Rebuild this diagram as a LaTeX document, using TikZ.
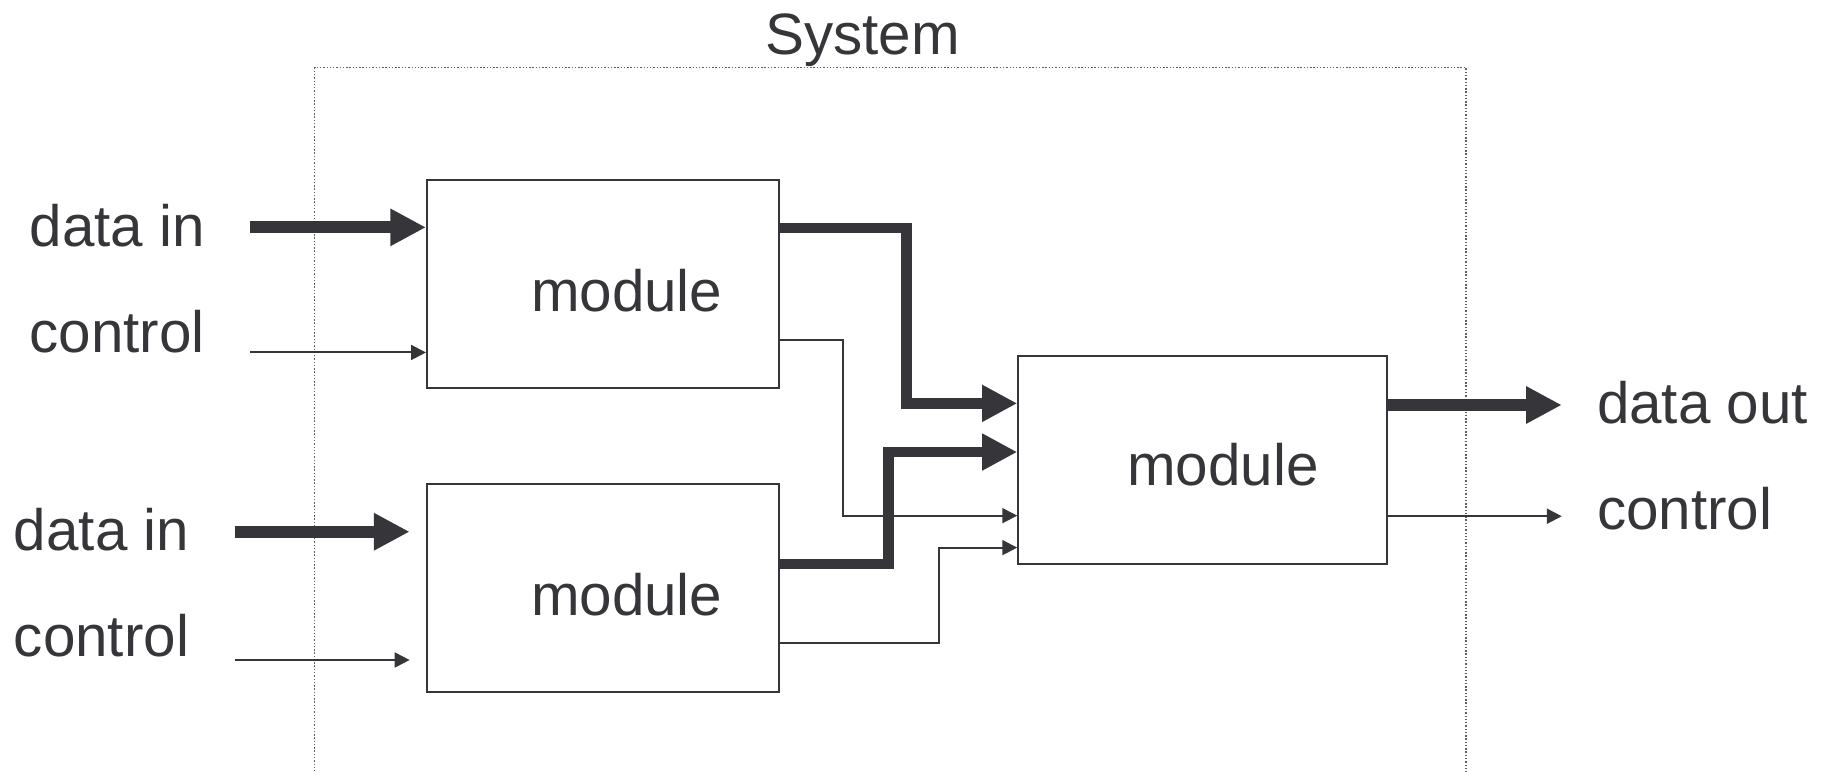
\documentclass[tikz,border=0pt]{standalone}
\usepackage{fontspec}
\setmainfont{Liberation Sans}
\usetikzlibrary{arrows.meta}
\definecolor{ink}{RGB}{54,54,58}
\definecolor{framegray}{RGB}{95,95,95}
\begin{document}
\begin{tikzpicture}[x=0.5pt,y=-0.5pt,
  lbl/.style={font=\fontsize{25}{30}\selectfont, text=ink, inner sep=0pt, anchor=base west},
  modtext/.style={lbl, anchor=base},
  modbox/.style={draw=ink, line width=0.9pt, rectangle, inner sep=0pt,
                 minimum width=150.8pt, minimum height=89pt},
  bigdata/.style={color=ink, line width=5.1pt, -{Triangle[length=15.3pt,width=15pt]}},
  datalink/.style={color=ink, line width=4.5pt, -{Triangle[length=15pt,width=14.8pt]}},
  ctllink/.style={color=ink, line width=0.85pt, -{Triangle[length=6.4pt,width=6.4pt]}},
  sysframe/.style={draw=framegray, line width=0.65pt, dash pattern=on 0.6pt off 0.8pt}]
\useasboundingbox (0,0) rectangle (1568,661);

% system boundary, open at the bottom
\draw[sysframe] (269.6,661) -- (269.6,58) -- (1256.3,58) -- (1256.3,661);
\node[modtext] (sys) at (739,47) {System};

% modules
\node[modbox] (m1) at (516.7,243.1) {};
\node[modbox] (m2) at (516.7,503.6) {};
\node[modbox, minimum width=158pt] (m3) at (1030.5,393.9) {};
\node[modtext] (m1t) at (537,266.5) {module};
\node[modtext] (m2t) at (537,527) {module};
\node[modtext] (m3t) at (1047.8,416) {module};

% external inputs
\node[lbl] (din1) at (25,211) {data in};
\node[lbl] (ctl1) at (25,302) {control};
\node[lbl] (din2) at (11.5,471.8) {data in};
\node[lbl] (ctl2) at (11.5,562.7) {control};
\coordinate (in1) at (214.6,194.8);
\coordinate (c1) at (214.6,302);
\coordinate (in2) at (201,455.6);
\coordinate (c2) at (201,565.5);
\draw[bigdata] (in1) -- (m1.west |- in1);
\draw[ctllink] (c1) -- (m1.west |- c1);
\draw[bigdata] (in2) -- ([xshift=-7pt]m2.west |- in2);
\draw[ctllink] (c2) -- ([xshift=-7pt]m2.west |- c2);

% links between modules
\draw[datalink] (m1.east |- 0,195.2) -- (776.9,195.2) -- (776.9,345.6) -- (m3.west |- 0,345.6);
\draw[ctllink] (m1.east |- 0,291.3) -- (722.2,291.3) -- (722.2,441.8) -- (m3.west |- 0,441.8);
\draw[datalink] (m2.east |- 0,483.3) -- (761.2,483.3) -- (761.2,387.3) -- (m3.west |- 0,387.3);
\draw[ctllink] (m2.east |- 0,551) -- (804.4,551) -- (804.4,469.2) -- (m3.west |- 0,469.2);

% outputs
\coordinate (out1) at (1338.2,347);
\coordinate (out2) at (1338.2,442.3);
\draw[bigdata] (m3.east |- out1) -- (out1);
\draw[ctllink] (m3.east |- out2) -- (out2);
\node[lbl] (dout) at (1368,363) {data out};
\node[lbl] (cout) at (1368,453.8) {control};
\end{tikzpicture}
\end{document}
